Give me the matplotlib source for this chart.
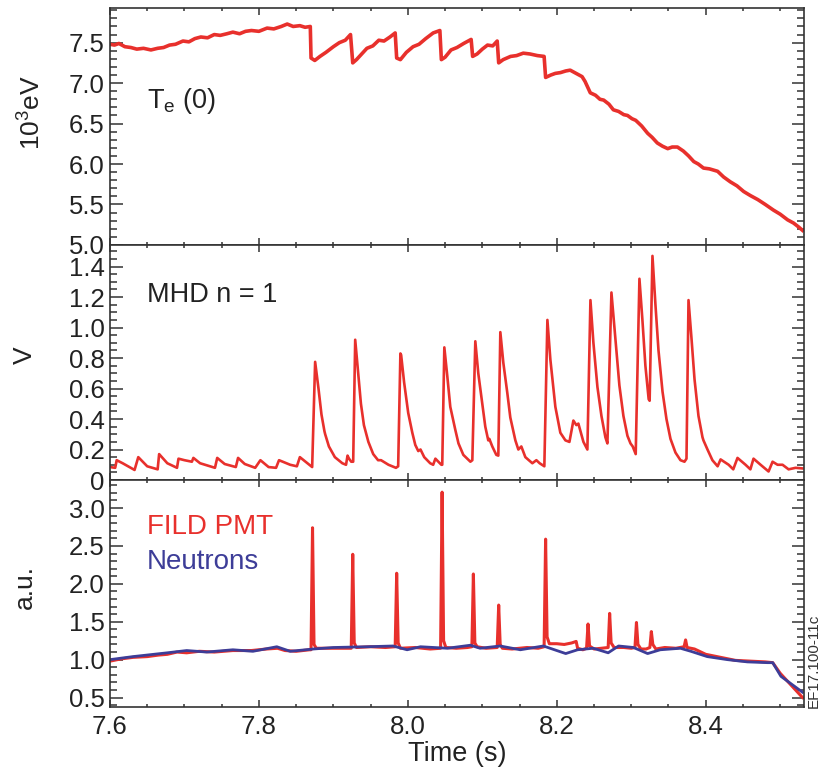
import matplotlib
matplotlib.use("Agg")
import matplotlib.pyplot as plt
from matplotlib.ticker import MultipleLocator, FixedLocator

plt.rcParams['font.family'] = ['Liberation Sans', 'DejaVu Sans']

RED = '#e8302c'
BLUE = '#3d3d98'
AX = '#333333'
TXT = '#222222'

# central electron temperature, 10^3 eV
te_t = [7.600, 7.606, 7.612, 7.620, 7.628, 7.636, 7.645, 7.655, 7.664, 7.672, 7.680,
        7.688, 7.698, 7.706, 7.714, 7.722, 7.731, 7.740, 7.748, 7.757, 7.765, 7.774,
        7.782, 7.790, 7.800, 7.811, 7.820, 7.830, 7.838, 7.846, 7.855, 7.862, 7.869,
        7.870, 7.875, 7.882, 7.890, 7.900, 7.908, 7.916, 7.923, 7.926, 7.931, 7.938,
        7.945, 7.953, 7.961, 7.968, 7.976, 7.983, 7.985, 7.990, 7.998, 8.007, 8.015,
        8.024, 8.034, 8.043, 8.045, 8.050, 8.058, 8.066, 8.075, 8.085, 8.087, 8.093,
        8.100, 8.107, 8.114, 8.120, 8.122, 8.128, 8.138, 8.146, 8.155, 8.164, 8.174,
        8.183, 8.185, 8.192, 8.198, 8.205, 8.212, 8.218, 8.226, 8.234, 8.238, 8.241,
        8.245, 8.252, 8.258, 8.263, 8.270, 8.276, 8.283, 8.290, 8.295, 8.301, 8.306,
        8.314, 8.322, 8.328, 8.335, 8.342, 8.349, 8.355, 8.362, 8.370, 8.377, 8.384,
        8.390, 8.397, 8.405, 8.416, 8.424, 8.433, 8.442, 8.451, 8.460, 8.470, 8.480,
        8.491, 8.500, 8.510, 8.518, 8.525, 8.530]
te_v = [7.48, 7.47, 7.49, 7.45, 7.44, 7.42, 7.43, 7.41, 7.43, 7.44, 7.47,
        7.48, 7.52, 7.51, 7.55, 7.57, 7.56, 7.60, 7.59, 7.61, 7.63, 7.61,
        7.64, 7.65, 7.64, 7.68, 7.67, 7.70, 7.73, 7.70, 7.71, 7.69, 7.70,
        7.31, 7.28, 7.33, 7.38, 7.45, 7.50, 7.53, 7.60, 7.25, 7.29, 7.36,
        7.43, 7.46, 7.53, 7.52, 7.57, 7.62, 7.31, 7.29, 7.38, 7.45, 7.48,
        7.55, 7.62, 7.65, 7.29, 7.32, 7.41, 7.44, 7.49, 7.54, 7.33, 7.36,
        7.42, 7.47, 7.46, 7.52, 7.25, 7.29, 7.33, 7.34, 7.37, 7.36, 7.34,
        7.33, 7.07, 7.10, 7.12, 7.13, 7.15, 7.16, 7.12, 7.08, 7.02, 6.96,
        6.88, 6.85, 6.80, 6.79, 6.74, 6.67, 6.65, 6.61, 6.60, 6.56, 6.54,
        6.47, 6.38, 6.33, 6.26, 6.22, 6.19, 6.21, 6.21, 6.16, 6.10, 6.03,
        6.00, 5.95, 5.94, 5.91, 5.84, 5.78, 5.73, 5.66, 5.61, 5.56, 5.50,
        5.43, 5.38, 5.31, 5.27, 5.22, 5.18]

# MHD n = 1 amplitude, V
mhd_t = [7.600, 7.607, 7.609, 7.617, 7.633, 7.638, 7.650, 7.664, 7.666, 7.677,
         7.690, 7.692, 7.700, 7.710, 7.712, 7.721, 7.741, 7.744, 7.754, 7.769,
         7.772, 7.781, 7.795, 7.802, 7.813, 7.823, 7.827, 7.842, 7.851, 7.855,
         7.8715, 7.8755, 7.880, 7.884, 7.888, 7.889, 7.894, 7.902, 7.912, 7.917,
         7.919, 7.921, 7.924, 7.9266, 7.9293, 7.9333, 7.937, 7.941, 7.947, 7.9535,
         7.960, 7.964, 7.974, 7.984, 7.987, 7.990, 7.991, 7.995, 8.0005, 8.006,
         8.010, 8.014, 8.017, 8.022, 8.030, 8.034, 8.037, 8.041, 8.045, 8.0462,
         8.049, 8.053, 8.057, 8.0597, 8.0637, 8.068, 8.0745, 8.084, 8.0866, 8.0906,
         8.0946, 8.100, 8.104, 8.108, 8.1094, 8.1134, 8.1188, 8.1215, 8.1242, 8.1282,
         8.1336, 8.1376, 8.1444, 8.1484, 8.1524, 8.1578, 8.1672, 8.1726, 8.177, 8.1833,
         8.1874, 8.1914, 8.1981, 8.2048, 8.2116, 8.217, 8.2223, 8.2263, 8.229, 8.2358,
         8.2411, 8.2452, 8.2492, 8.2546, 8.260, 8.2653, 8.268, 8.2734, 8.2788, 8.2841,
         8.2895, 8.2949, 8.299, 8.302, 8.306, 8.311, 8.315, 8.319, 8.3234, 8.3247,
         8.3285, 8.3325, 8.3366, 8.342, 8.3473, 8.3527, 8.3594, 8.3661, 8.3715, 8.3742,
         8.3769, 8.3809, 8.385, 8.3903, 8.3957, 8.397, 8.4024, 8.409, 8.416, 8.420,
         8.4308, 8.437, 8.4427, 8.4535, 8.460, 8.4642, 8.4737, 8.4844, 8.4898, 8.4965,
         8.5032, 8.5113, 8.5207, 8.530]
mhd_v = [0.085, 0.080, 0.130, 0.110, 0.066, 0.150, 0.090, 0.070, 0.170, 0.110,
         0.080, 0.140, 0.130, 0.120, 0.145, 0.110, 0.080, 0.145, 0.105, 0.085,
         0.145, 0.105, 0.080, 0.130, 0.085, 0.080, 0.130, 0.100, 0.090, 0.150,
         0.085, 0.775, 0.600, 0.430, 0.320, 0.300, 0.220, 0.150, 0.110, 0.100,
         0.160, 0.140, 0.120, 0.120, 0.920, 0.700, 0.500, 0.360, 0.250, 0.170,
         0.130, 0.130, 0.100, 0.080, 0.090, 0.830, 0.820, 0.640, 0.440, 0.310,
         0.230, 0.190, 0.200, 0.150, 0.110, 0.100, 0.140, 0.120, 0.100, 0.100,
         0.870, 0.680, 0.480, 0.420, 0.330, 0.240, 0.165, 0.120, 0.130, 0.910,
         0.700, 0.500, 0.350, 0.260, 0.270, 0.220, 0.165, 0.160, 0.970, 0.770,
         0.570, 0.410, 0.260, 0.200, 0.220, 0.150, 0.110, 0.130, 0.110, 0.090,
         1.050, 0.790, 0.480, 0.310, 0.260, 0.250, 0.390, 0.360, 0.370, 0.250,
         0.200, 1.180, 0.900, 0.610, 0.420, 0.280, 0.240, 1.230, 0.920, 0.620,
         0.420, 0.290, 0.240, 0.220, 0.170, 1.320, 1.050, 0.750, 0.530, 0.520,
         1.470, 1.150, 0.850, 0.580, 0.400, 0.270, 0.180, 0.130, 0.120, 0.140,
         1.180, 0.930, 0.660, 0.420, 0.280, 0.260, 0.200, 0.130, 0.090, 0.135,
         0.100, 0.070, 0.145, 0.100, 0.070, 0.140, 0.100, 0.056, 0.120, 0.100,
         0.100, 0.070, 0.080, 0.076]

# FILD photomultiplier, a.u.
fild_t = [7.600, 7.615, 7.631, 7.650, 7.665, 7.677, 7.690, 7.703, 7.720, 7.740,
          7.765, 7.790, 7.810, 7.825, 7.835, 7.850, 7.868, 7.870, 7.872, 7.874,
          7.877, 7.900, 7.924, 7.926, 7.928, 7.931, 7.950, 7.970, 7.983, 7.985,
          7.987, 7.990, 8.010, 8.030, 8.044, 8.046, 8.048, 8.051, 8.065, 8.080,
          8.086, 8.088, 8.090, 8.093, 8.105, 8.120, 8.122, 8.124, 8.127, 8.140,
          8.160, 8.175, 8.183, 8.185, 8.187, 8.190, 8.200, 8.210, 8.220, 8.226,
          8.228, 8.235, 8.240, 8.242, 8.244, 8.250, 8.260, 8.269, 8.271, 8.273,
          8.277, 8.290, 8.300, 8.305, 8.307, 8.309, 8.313, 8.320, 8.325, 8.327,
          8.329, 8.333, 8.345, 8.360, 8.371, 8.373, 8.375, 8.385, 8.400, 8.420,
          8.440, 8.460, 8.480, 8.490, 8.500, 8.515, 8.530]
fild_v = [0.98, 1.01, 1.03, 1.04, 1.06, 1.07, 1.10, 1.09, 1.11, 1.10,
          1.12, 1.12, 1.14, 1.15, 1.12, 1.11, 1.13, 1.13, 2.74, 1.20,
          1.15, 1.15, 1.15, 2.39, 1.22, 1.16, 1.17, 1.16, 1.17, 2.14,
          1.22, 1.15, 1.16, 1.14, 1.15, 3.21, 1.25, 1.16, 1.15, 1.16,
          1.17, 2.13, 1.22, 1.17, 1.15, 1.16, 1.72, 1.20, 1.15, 1.14,
          1.16, 1.15, 1.17, 2.59, 1.30, 1.21, 1.21, 1.20, 1.22, 1.24,
          1.15, 1.13, 1.15, 1.47, 1.18, 1.14, 1.15, 1.16, 1.61, 1.22,
          1.16, 1.16, 1.15, 1.16, 1.49, 1.20, 1.14, 1.14, 1.16, 1.37,
          1.20, 1.14, 1.16, 1.15, 1.17, 1.26, 1.16, 1.14, 1.07, 1.03,
          0.99, 0.98, 0.97, 0.96, 0.82, 0.66, 0.50]

# neutron rate, a.u.
neut_t = [7.600, 7.631, 7.677, 7.703, 7.730, 7.765, 7.792, 7.824, 7.842, 7.873,
          7.900, 7.945, 7.980, 7.999, 8.017, 8.053, 8.084, 8.097, 8.124, 8.151,
          8.182, 8.212, 8.228, 8.249, 8.269, 8.283, 8.303, 8.322, 8.339, 8.366,
          8.380, 8.402, 8.429, 8.456, 8.483, 8.490, 8.501, 8.530]
neut_v = [1.00, 1.04, 1.09, 1.12, 1.10, 1.13, 1.11, 1.17, 1.11, 1.14,
          1.16, 1.17, 1.18, 1.13, 1.17, 1.15, 1.19, 1.15, 1.18, 1.13,
          1.18, 1.08, 1.13, 1.15, 1.09, 1.18, 1.16, 1.08, 1.13, 1.15,
          1.11, 1.04, 1.00, 0.97, 0.96, 0.96, 0.78, 0.57]


def style_axis(ax, ymaj, ymin):
    ax.set_xlim(7.6, 8.532)
    ax.xaxis.set_major_locator(MultipleLocator(0.2))
    ax.xaxis.set_minor_locator(MultipleLocator(0.05))
    ax.yaxis.set_major_locator(ymaj)
    ax.yaxis.set_minor_locator(MultipleLocator(ymin))
    ax.tick_params(axis='both', which='both', direction='in', top=True, right=True,
                   colors=AX, labelcolor=TXT, labelsize=18.5, width=1.1)
    ax.tick_params(axis='y', which='major', length=9, pad=4)
    ax.tick_params(axis='y', which='minor', length=4.8)
    ax.tick_params(axis='x', which='major', length=5, pad=6)
    ax.tick_params(axis='x', which='minor', length=2.5)
    for s in ax.spines.values():
        s.set_color(AX)
        s.set_linewidth(1.2)


fig = plt.figure(figsize=(8.22, 7.8), dpi=100)
left, width = 0.1338, 0.8443
ax1 = fig.add_axes([left, 0.686, width, 0.3034])
ax2 = fig.add_axes([left, 0.3846, width, 0.3014])
ax3 = fig.add_axes([left, 0.0936, width, 0.291])

ax1.plot(te_t, te_v, color=RED, lw=2.6)
ax1.set_ylim(5.0, 7.925)
style_axis(ax1, MultipleLocator(0.5), 0.1)
ax1.yaxis.set_major_formatter(lambda v, p: f"{v:.1f}")
ax1.tick_params(axis='x', labelbottom=False)
ax1.set_ylabel(r"10$^{\mathregular{3}}$eV", fontsize=19, color=TXT)
ax1.yaxis.set_label_coords(-0.094, 0.56)
ax1.text(0.053, 0.61, r"T$_{\mathregular{e}}$ (0)", transform=ax1.transAxes,
         fontsize=19.5, va='center', color=TXT)

ax2.plot(mhd_t, mhd_v, color=RED, lw=1.9)
ax2.set_ylim(0, 1.542)
style_axis(ax2, FixedLocator([0, 0.2, 0.4, 0.6, 0.8, 1.0, 1.2, 1.4]), 0.05)
ax2.yaxis.set_major_formatter(lambda v, p: "0" if abs(v) < 1e-9 else f"{v:.1f}")
ax2.tick_params(axis='x', labelbottom=False)
ax2.set_ylabel("V", fontsize=19, color=TXT)
ax2.yaxis.set_label_coords(-0.105, 0.53)
ax2.text(0.053, 0.785, "MHD n = 1", transform=ax2.transAxes,
         fontsize=19.5, va='center', color=TXT)

ax3.plot(fild_t, fild_v, color=RED, lw=2.2)
ax3.plot(neut_t, neut_v, color=BLUE, lw=2.0)
ax3.set_ylim(0.375, 3.37)
style_axis(ax3, MultipleLocator(0.5), 0.1)
ax3.yaxis.set_major_formatter(lambda v, p: f"{v:.1f}")
ax3.set_ylabel("a.u.", fontsize=19, color=TXT)
ax3.yaxis.set_label_coords(-0.105, 0.53)
ax3.set_xlabel("Time (s)", fontsize=19.5, color=TXT, labelpad=1)
ax3.text(0.053, 0.795, "FILD PMT", transform=ax3.transAxes,
         fontsize=20, va='center', color=RED)
ax3.text(0.053, 0.64, "Neutrons", transform=ax3.transAxes,
         fontsize=20, va='center', color=BLUE)

fig.text(0.9905, 0.153, "EF17.100-11c", rotation=90, fontsize=11,
         ha='center', va='center', color='#333333')

fig.savefig("out.png", dpi=100)
